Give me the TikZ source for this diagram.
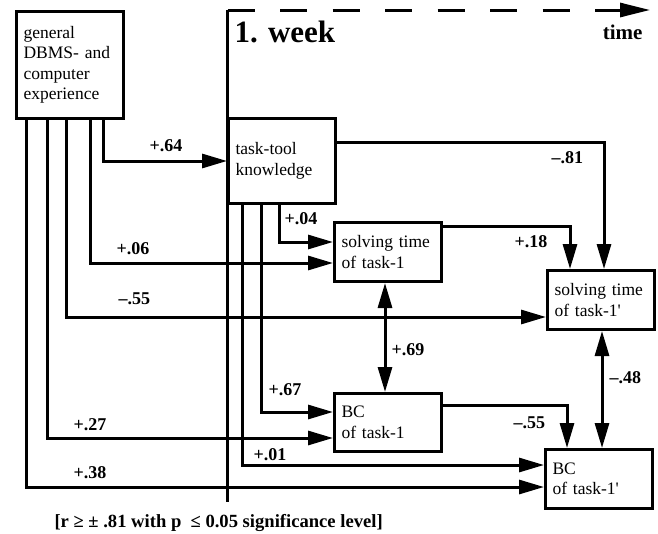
\documentclass[tikz,border=0pt]{standalone}
\usepackage{fontspec}
\setmainfont{Liberation Serif}
\usetikzlibrary{arrows.meta, calc}

\begin{document}
\begin{tikzpicture}[x=1pt, y=-1pt, line width=3pt,
        box/.style={draw, anchor=north west, text width=93pt, inner xsep=7pt, inner ysep=0pt,
            align=left, font=\fontsize{17.5}{20.5}\selectfont},
        conn/.style={-{Triangle[length=25pt, width=14pt]}},
        both/.style={{Triangle[length=25pt, width=14pt]}-{Triangle[length=25pt, width=14pt]}},
        val/.style={anchor=west, inner sep=0pt, font=\bfseries\fontsize{18}{20}\selectfont}]
            \useasboundingbox (0,0) rectangle (658,533);
            \node[box, minimum height=107pt] (gen)  at (15,10)   {general\\DBMS- and\\computer\\experience};
            \node[box, minimum height=85pt]  (tool) at (227,117) {task-tool\\knowledge};
            \node[box, minimum height=59pt]  (st1)  at (333,221) {solving time\\of task-1};
            \node[box, minimum height=59pt]  (st1p) at (546,269) {solving time\\of task-1\textquotesingle};
            \node[box, minimum height=58pt]  (bc1)  at (333,392) {BC\\of task-1};
            \node[box, minimum height=59pt]  (bc1p) at (544,448) {BC\\of task-1\textquotesingle};
            \coordinate (wk) at (227.5,10);
            \coordinate (wkend) at (227.5,502);
            \coordinate (tm) at (650,10);
            \draw (wk) -- (wkend);
            \draw[dash pattern=on 27pt off 25.5pt, -{Triangle[length=30pt, width=14pt]}] (wk) -- (tm);
            \node[anchor=base west, inner sep=0pt, font=\bfseries\fontsize{31}{31}\selectfont] (week) at (233,42) {1. week};
            \node[anchor=base east, inner sep=0pt, font=\bfseries\fontsize{21}{21}\selectfont] (time) at (644,39) {time};
            \draw[conn] ([xshift=88pt]gen.south west) |- (tool.west);
            \draw[conn] ([xshift=75pt]gen.south west) |- ([yshift=-42pt]st1.north west);
            \draw[conn] ([xshift=51pt]gen.south west) |- ([yshift=-48pt]st1p.north west);
            \draw[conn] ([xshift=32pt]gen.south west) |- ([yshift=-46pt]bc1.north west);
            \draw[conn] ([xshift=11pt]gen.south west) |- ([yshift=-39pt]bc1p.north west);
            \draw[conn] ([xshift=52pt]tool.south west) |- ([yshift=-21pt]st1.north west);
            \draw[conn] ([xshift=34pt]tool.south west) |- ([yshift=-20pt]bc1.north west);
            \draw[conn] ([xshift=15pt]tool.south west) |- ([yshift=-17pt]bc1p.north west);
            \draw[conn] ([yshift=-25pt]tool.north east) -| ([xshift=58pt]st1p.north west);
            \draw[conn] ([yshift=-5pt]st1.north east) -| ([xshift=24pt]st1p.north west);
            \draw[conn] ([yshift=-13pt]bc1.north east) -| ([xshift=23pt]bc1p.north west);
            \draw[both] ([xshift=52pt]st1.south west) -- ([xshift=52pt]bc1.north west);
            \draw[both] ([xshift=56pt]st1p.south west) -- ([xshift=58pt]bc1p.north west);
            \node[val] (r64) at (148,146) {+.64};
            \node[val] (r81) at (550,158) {–.81};
            \node[val] (r04) at (283,219) {+.04};
            \node[val] (r18) at (513,242) {+.18};
            \node[val] (r06) at (115,249) {+.06};
            \node[val] (r55a) at (117,299) {–.55};
            \node[val] (r69) at (390,350) {+.69};
            \node[val] (r48) at (608,378) {–.48};
            \node[val] (r67) at (267,390) {+.67};
            \node[val] (r27) at (72,425) {+.27};
            \node[val] (r55b) at (512,423) {–.55};
            \node[val] (r01) at (252,455) {+.01};
            \node[val] (r38) at (72,473) {+.38};
            \node[val, anchor=base west, font=\bfseries\fontsize{18.6}{20}\selectfont] (note) at (53,527) {[r ≥ ± .81 with p\ \ ≤ 0.05 significance level]};
        \end{tikzpicture}
\end{document}
